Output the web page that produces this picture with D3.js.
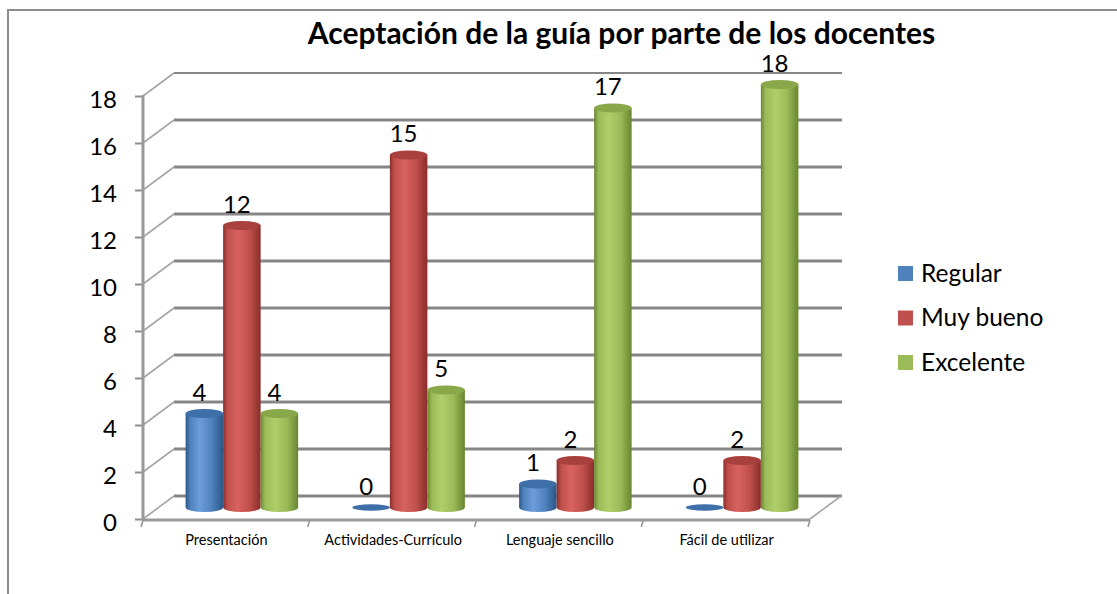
<!DOCTYPE html>
<html><head><meta charset="utf-8">
<script src="https://cdn.jsdelivr.net/npm/d3@7"></script>
<style>
html,body{margin:0;padding:0;background:#fff;}
svg{display:block;font-family:Lato,"Open Sans",sans-serif;}
</style></head>
<body>
<svg id="chart" width="1117" height="594"></svg>
<script>
const categories = ["Presentación","Actividades-Currículo","Lenguaje sencillo","Fácil de utilizar"];
const seriesNames = ["Regular","Muy bueno","Excelente"];
const regular = [4,0,1,0];
const muyBueno = [12,15,2,2];
const excelente = [4,5,17,18];
const yTicks = [0,2,4,6,8,10,12,14,16,18];
const titleText = "Aceptación de la guía por parte de los docentes";

const seriesValues = [regular, muyBueno, excelente];
const colors = {
  "Regular":   {base:"#4F81BD", dark:"#2B5688", light:"#6C9DDB", cap:"#3E6FA9"},
  "Muy bueno": {base:"#C0504D", dark:"#8A2D2A", light:"#D8625F", cap:"#A8403D"},
  "Excelente": {base:"#9BBB59", dark:"#69862F", light:"#AFCF69", cap:"#89A84A"}
};

const svg = d3.select("#chart");
const W = 1117, H = 594;

// frame (top + left border)
svg.append("path").attr("d", `M8,${H} L8,10 L${W},10`)
  .attr("fill","none").attr("stroke","#8c8c8c").attr("stroke-width",2);

// title
svg.append("text").attr("x",621.5).attr("y",44).attr("text-anchor","middle")
  .attr("font-weight","bold").attr("font-size",30).attr("fill","#000").text(titleText);

const x0 = 143, x1 = 810;
const y = d3.scaleLinear().domain([0,18]).range([519,96]);
const x = d3.scaleBand().domain(categories).range([x0,x1]).padding(0);
const xs = d3.scaleBand().domain(seriesNames).range([-56.25,56.25]).padding(0);
const DX = 31, DY = -23;

const walls = svg.append("g");
// back wall gridlines
walls.selectAll("line.grid").data(yTicks).join("line")
  .attr("class","grid")
  .attr("x1", x0+DX).attr("x2", x1+DX+1)
  .attr("y1", d=>y(d)+DY).attr("y2", d=>y(d)+DY)
  .attr("stroke","#868686").attr("stroke-width", d=> d===18 ? 2 : 2.8);
// left wall diagonals
walls.selectAll("line.diag").data(yTicks).join("line")
  .attr("class","diag")
  .attr("x1", x0).attr("x2", x0+DX)
  .attr("y1", d=>y(d)).attr("y2", d=>y(d)+DY)
  .attr("stroke","#a6a6a6").attr("stroke-width",1.6);
// floor right edge
walls.append("line").attr("x1",x1).attr("y1",y(0)).attr("x2",x1+DX).attr("y2",y(0)+DY)
  .attr("stroke","#a6a6a6").attr("stroke-width",1.6);

// gradients
const defs = svg.append("defs");
seriesNames.forEach((s,i)=>{
  const c = colors[s];
  const g = defs.append("linearGradient").attr("id","grad"+i).attr("x1","0").attr("x2","1").attr("y1","0").attr("y2","0");
  g.append("stop").attr("offset","0%").attr("stop-color",c.dark);
  g.append("stop").attr("offset","12%").attr("stop-color",c.base);
  g.append("stop").attr("offset","38%").attr("stop-color",c.light);
  g.append("stop").attr("offset","70%").attr("stop-color",c.base);
  g.append("stop").attr("offset","100%").attr("stop-color",c.dark);
});

// y axis
const yAxis = d3.axisLeft(y).tickValues(yTicks).tickSize(8).tickPadding(18).tickFormat(d3.format("d"));
const ag = svg.append("g").attr("transform",`translate(${x0},0)`).call(yAxis);
ag.select(".domain").remove();
ag.selectAll(".tick line").attr("stroke","#8c8c8c").attr("stroke-width",2);
ag.selectAll(".tick text").attr("font-size",24).attr("fill","#000")
  .attr("font-family","Lato,sans-serif").attr("dy","0.48em");
svg.append("line").attr("x1",x0).attr("x2",x0).attr("y1",y(18)-1).attr("y2",y(0)+1.5)
  .attr("stroke","#999").attr("stroke-width",3);

// x axis (front floor edge)
svg.append("line").attr("x1",x0).attr("x2",x1).attr("y1",y(0)+1).attr("y2",y(0)+1)
  .attr("stroke","#999").attr("stroke-width",3);
const bounds = categories.map(c=>x(c)).concat([x1]);
svg.selectAll("line.xt").data(bounds).join("line").attr("class","xt")
  .attr("x1",d=>d).attr("x2",d=>d-2).attr("y1",y(0)+1).attr("y2",y(0)+8)
  .attr("stroke","#999").attr("stroke-width",1.6);
svg.selectAll("text.xl").data(categories).join("text").attr("class","xl")
  .attr("x",d=>x(d)+x.bandwidth()/2).attr("y",y(0)+26)
  .attr("text-anchor","middle").attr("font-size",14.5).attr("fill","#000").text(d=>d);

// bars (cylinders) at mid depth
const bw = xs.bandwidth();
const rx = bw/2, ry = 4.5;
const barsG = svg.append("g");
categories.forEach((cat,ci)=>{
  seriesNames.forEach((s,si)=>{
    const v = seriesValues[si][ci];
    const cx = x(cat) + x.bandwidth()/2 + xs(s) + bw/2 + DX/2;
    const yb = y(0) + DY/2;
    const yt = y(v) + DY/2;
    const g = barsG.append("g");
    if (v > 0) {
      g.append("path")
        .attr("d", `M${cx-rx},${yt} L${cx-rx},${yb} A${rx},${ry} 0 0 0 ${cx+rx},${yb} L${cx+rx},${yt} Z`)
        .attr("fill",`url(#grad${si})`);
      g.append("ellipse").attr("cx",cx).attr("cy",yt).attr("rx",rx).attr("ry",ry)
        .attr("fill",colors[s].cap);
    } else {
      g.append("ellipse").attr("cx",cx).attr("cy",yb).attr("rx",rx).attr("ry",ry*0.7)
        .attr("fill",colors[s].cap);
    }
    svg.append("text").attr("x",cx-5).attr("y",yt-13).attr("text-anchor","middle")
      .attr("font-size",24).attr("fill","#000").text(v);
  });
});

// legend
const lg = svg.append("g").attr("transform","translate(898,266)");
seriesNames.forEach((s,i)=>{
  const row = lg.append("g").attr("transform",`translate(0,${i*44.5})`);
  row.append("rect").attr("width",15).attr("height",15).attr("fill",colors[s].base);
  row.append("text").attr("x",23).attr("y",15.5).attr("font-size",24.5).attr("fill","#000").text(s);
});
</script>
</body></html>
